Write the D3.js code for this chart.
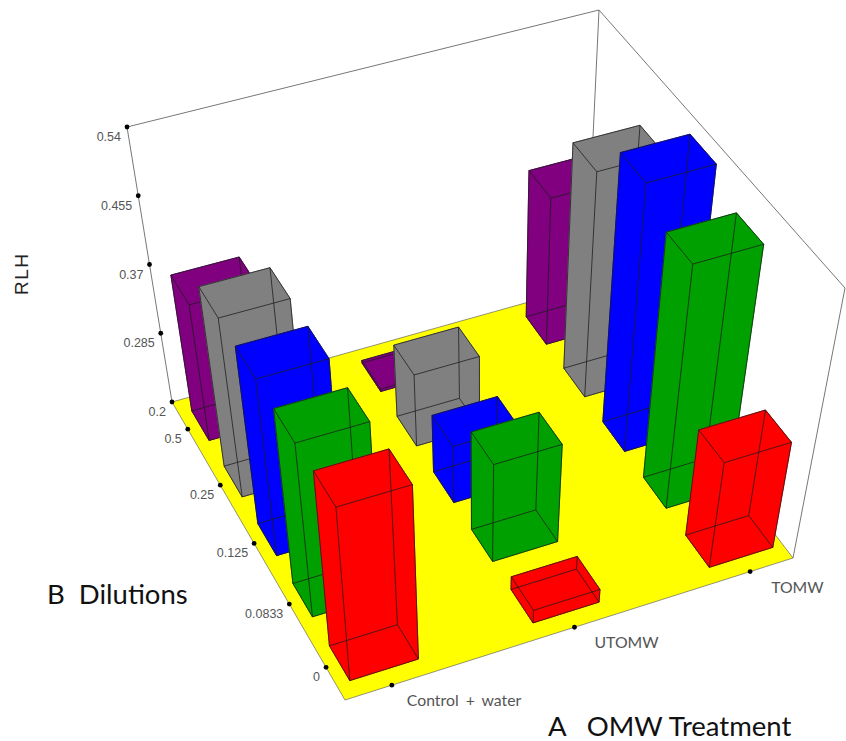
<html>

<head>
    <meta charset="utf-8">
    <script src="https://d3js.org/d3.v7.min.js"></script>
    <style>
        body { margin: 0; background: #fff; }
        svg { display: block; }
    </style>
</head>

<body>
    <div id="chart">
        <svg width=846 height=741></svg>
    </div>
    <script>
        // values
        var treatments = ["Control + water", "UTOMW", "TOMW"]
        var dilutions = ["0", "0.0833", "0.125", "0.25", "0.5"]
        var rlhTicks = [0.2, 0.285, 0.37, 0.455, 0.54]
        var rlhControl = [0.424, 0.421, 0.422, 0.423, 0.368]
        var rlhUTOMW = [0.216, 0.322, 0.27, 0.288, 0.203]
        var rlhTOMW = [0.332, 0.505, 0.533, 0.478, 0.38]
        var dilutionColors = ["#ff0000", "#00a000", "#0000ff", "#808080", "#800080"]

        var svg = d3.select('#chart svg')

        // screen corners of the floor and of the top of the box: front, right, back, left
        var floorQuad = [[345, 700], [793, 558], [586, 286], [172, 402]]
        var topQuad = [[323, 438], [845, 288], [599, 10], [127, 127]]

        // unit square -> quad (projective)
        function homography(q) {
            var dx1 = q[1][0] - q[2][0], dx2 = q[3][0] - q[2][0], sx = q[0][0] - q[1][0] + q[2][0] - q[3][0]
            var dy1 = q[1][1] - q[2][1], dy2 = q[3][1] - q[2][1], sy = q[0][1] - q[1][1] + q[2][1] - q[3][1]
            var det = dx1 * dy2 - dx2 * dy1
            var g = (sx * dy2 - dx2 * sy) / det
            var h = (dx1 * sy - sx * dy1) / det
            var a = q[1][0] - q[0][0] + g * q[1][0], b = q[3][0] - q[0][0] + h * q[3][0], c = q[0][0]
            var d = q[1][1] - q[0][1] + g * q[1][1], e = q[3][1] - q[0][1] + h * q[3][1], f = q[0][1]
            return function(u, v) {
                var w = g * u + h * v + 1
                return [(a * u + b * v + c) / w, (d * u + e * v + f) / w]
            }
        }
        var floorAt = homography(floorQuad)
        var topAt = homography(topQuad)

        var uScale = d3.scalePoint().domain(treatments).range([0.1, 0.9])
        var vScale = d3.scalePoint().domain(dilutions).range([0.1, 0.9])
        var zScale = d3.scaleLinear().domain([0.2, 0.54]).range([0, 1])

        function project(u, v, value) {
            return d3.interpolateArray(floorAt(u, v), topAt(u, v))(zScale(value))
        }

        // bars sit a touch to the right of their tick
        var halfU = 0.074, halfV = 0.054, shiftU = 0.003
        var line = d3.line()

        // floor
        svg.append('path')
            .attr('d', line(floorQuad) + 'Z')
            .attr('fill', '#ffff00')
            .attr('stroke', '#666')
            .attr('stroke-width', 0.7)

        // box wires
        var zMax = rlhTicks[rlhTicks.length - 1], zMin = rlhTicks[0]
        var wires = [
            [[0, 1, zMin], [0, 1, zMax]],
            [[0, 1, zMax], [1, 1, zMax]],
            [[1, 1, zMax], [1, 0, zMax]],
            [[1, 1, zMax], [1, 1, zMin]],
            [[1, 0, zMax], [1, 0, zMin]]
        ]
        svg.selectAll('path.wire')
            .data(wires)
            .enter()
            .append('path')
            .attr('class', 'wire')
            .attr('d', function(d) {
                return line(d.map(function(p) { return project(p[0], p[1], p[2]) }))
            })
            .attr('fill', 'none')
            .attr('stroke', '#777')
            .attr('stroke-width', 1)

        // bars, back row first so the front ones sit on top
        var rows = [rlhControl, rlhUTOMW, rlhTOMW]
        var bars = []
        dilutions.forEach(function(dil, j) {
            treatments.forEach(function(tr, i) {
                bars.push({ treatment: tr, dilution: dil, value: rows[i][j], color: dilutionColors[j] })
            })
        })
        bars.sort(function(a, b) {
            return vScale(b.dilution) - vScale(a.dilution)
        })

        var bar = svg.selectAll('g.bar')
            .data(bars)
            .enter()
            .append('g')
            .attr('class', 'bar')

        function corners(d, value) {
            var u = uScale(d.treatment) + shiftU, v = vScale(d.dilution)
            return [
                project(u - halfU, v - halfV, value),
                project(u + halfU, v - halfV, value),
                project(u + halfU, v + halfV, value),
                project(u - halfU, v + halfV, value)
            ]
        }

        bar.each(function(d) {
            var g = d3.select(this)
            var lo = corners(d, zMin), hi = corners(d, d.value)
            var faces = [lo, hi]
            var edges = []
            d3.range(4).forEach(function(k) {
                var n = (k + 1) % 4
                faces.push([lo[k], lo[n], hi[n], hi[k]])
                edges.push([lo[k], lo[n]], [hi[k], hi[n]], [lo[k], hi[k]])
            })
            g.selectAll('path.face')
                .data(faces)
                .enter()
                .append('path')
                .attr('class', 'face')
                .attr('d', function(f) { return line(f) + 'Z' })
                .attr('fill', d.color)
                .attr('stroke', d.color)
                .attr('stroke-width', 0.5)
            g.selectAll('path.edge')
                .data(edges)
                .enter()
                .append('path')
                .attr('class', 'edge')
                .attr('d', line)
                .attr('fill', 'none')
                .attr('stroke', '#1c1c1c')
                .attr('stroke-width', 0.9)
                .attr('stroke-opacity', 0.85)
        })

        // tick dots and labels
        function dots(data, pos) {
            svg.append('g').selectAll('circle')
                .data(data)
                .enter()
                .append('circle')
                .attr('cx', function(d) { return pos(d)[0] })
                .attr('cy', function(d) { return pos(d)[1] })
                .attr('r', 2.4)
                .attr('fill', '#000')
        }
        function rlhPos(d) { return project(0, 1, d) }
        function dilPos(d) { return floorAt(0, vScale(d)) }
        function trePos(d) { return floorAt(uScale(d), 0) }

        dots(rlhTicks, rlhPos)
        dots(dilutions, dilPos)
        dots(treatments, trePos)

        function tickLabels(data, pos) {
            svg.append('g').selectAll('text')
                .data(data)
                .enter()
                .append('text')
                .attr('x', function(d) { return pos(d)[0] - 6 })
                .attr('y', function(d) { return pos(d)[1] + 14 })
                .attr('text-anchor', 'end')
                .attr('font-family', 'Liberation Sans')
                .attr('font-size', 12.5)
                .attr('fill', '#555')
                .text(function(d) { return d })
        }
        tickLabels(rlhTicks, rlhPos)
        tickLabels(dilutions, dilPos)

        var treatmentDx = [15, 20, 21]
        svg.append('g').selectAll('text')
            .data(treatments)
            .enter()
            .append('text')
            .attr('x', function(d, i) { return trePos(d)[0] + treatmentDx[i] })
            .attr('y', function(d) { return trePos(d)[1] + 21 })
            .attr('font-family', 'Lato')
            .attr('font-size', 15.8)
            .attr('word-spacing', 3)
            .attr('fill', '#555')
            .text(function(d) { return d })

        // axis titles
        svg.append('text')
            .attr('transform', 'translate(28,295) rotate(-90)')
            .attr('font-family', 'Liberation Sans')
            .attr('font-size', 19)
            .attr('letter-spacing', 1.5)
            .attr('fill', '#222')
            .text('RLH')
        svg.append('text')
            .attr('x', 47)
            .attr('y', 604)
            .attr('font-family', 'Lato')
            .attr('font-size', 27.5)
            .attr('fill', '#111')
            .attr('xml:space', 'preserve')
            .text('B  Dilutions')
        svg.append('text')
            .attr('x', 548)
            .attr('y', 736)
            .attr('font-family', 'Lato')
            .attr('font-size', 27.5)
            .attr('fill', '#111')
            .attr('xml:space', 'preserve')
            .text('A   OMW Treatment')
    </script>

</body>

</html>
